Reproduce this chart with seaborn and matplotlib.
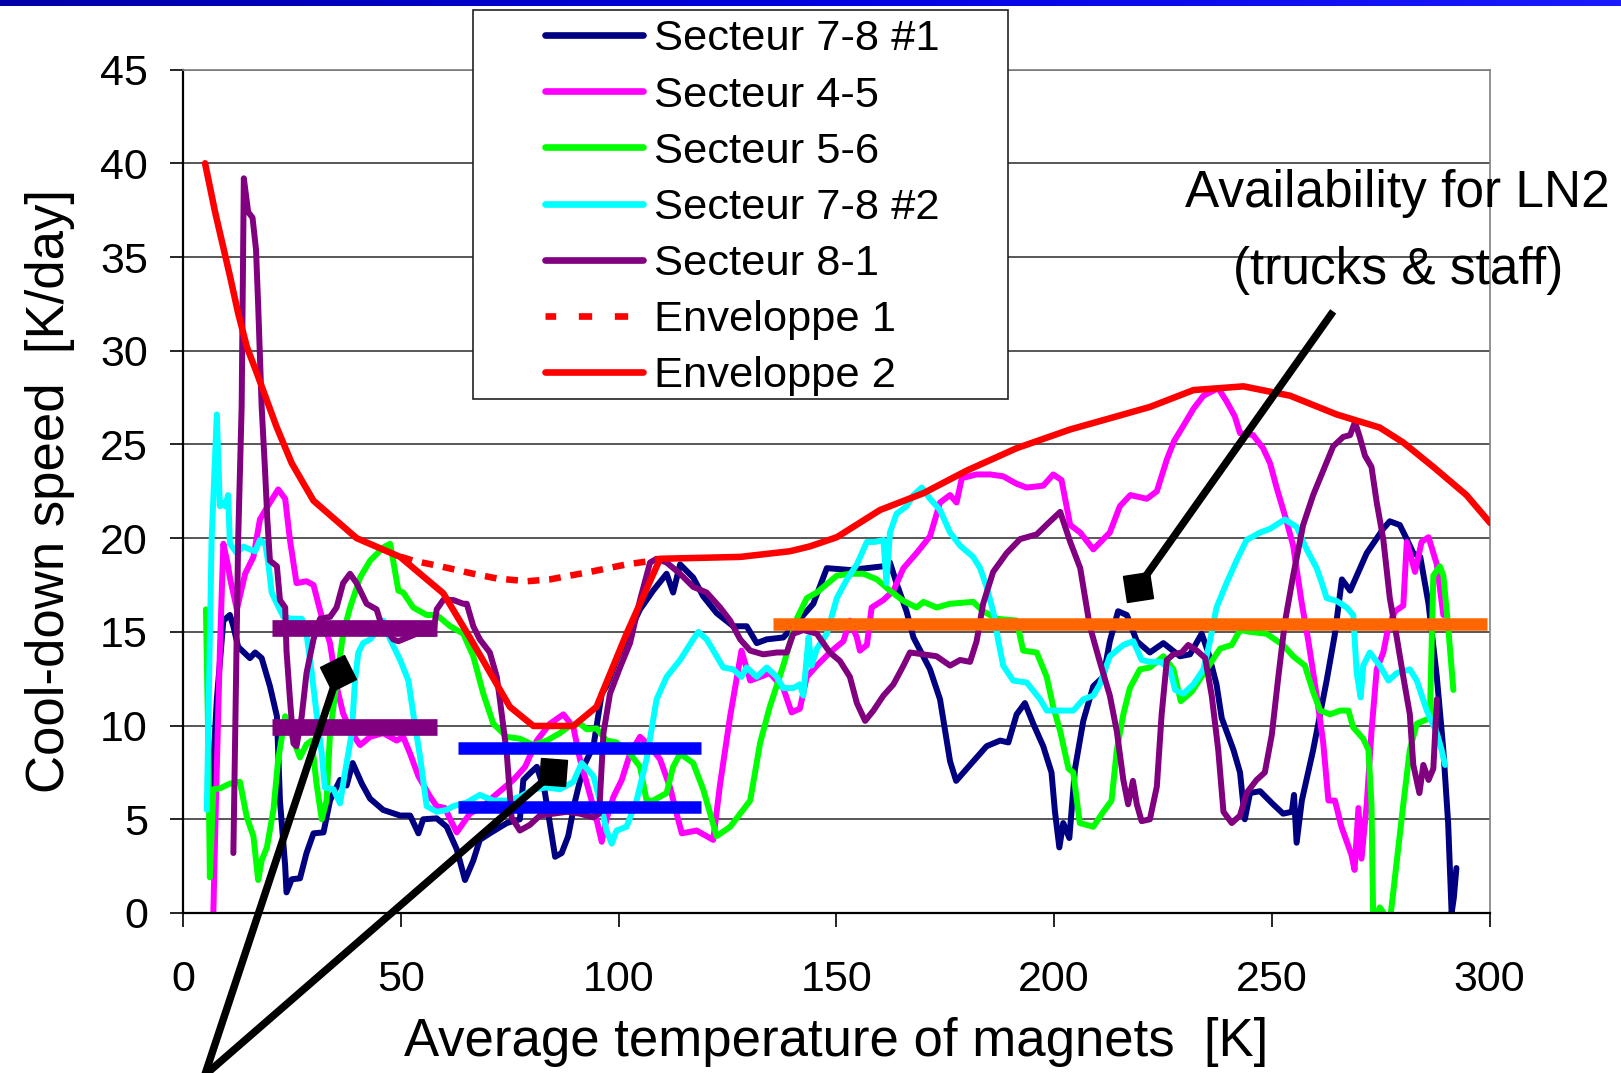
import numpy as np
import pandas as pd
import matplotlib
matplotlib.use("Agg")
import matplotlib.pyplot as plt
import seaborn as sns
from matplotlib.markers import MarkerStyle
from matplotlib.transforms import Affine2D
from matplotlib.patches import Rectangle
from matplotlib.colors import LinearSegmentedColormap

# ---------------- data ----------------
s78a_x = [6.0, 6.9, 7.7, 9.2, 10.7, 11.5, 12.6, 15.3, 16.5, 18.0, 19.9, 21.5, 22.2, 23.4, 23.7, 24.9, 26.8, 28.3, 29.9, 32.2,
          33.7, 36.0, 37.5, 38.9, 41.0, 42.9, 45.9, 49.8, 52.1, 54.0, 55.1, 58.2, 60.5, 62.8, 64.7, 66.6, 68.1, 70.4, 74.3, 77.3,
          78.1, 79.6, 81.2, 83.0, 85.4, 86.9, 88.4, 90.0, 91.9, 94.2, 96.1, 97.2, 99.5, 101.8, 104.9, 107.9, 111.0, 112.5, 114.1, 117.1,
          119.4, 122.5, 126.3, 129.4, 131.7, 134.0, 137.8, 140.9, 144.7, 147.8, 153.1, 160.8, 162.3, 163.8, 166.1, 167.7, 171.5, 173.8, 176.1, 177.5,
          180.7, 184.5, 187.6, 189.5, 191.4, 193.3, 195.2, 197.5, 199.4, 200.2, 201.2, 202.1, 203.5, 204.8, 206.7, 209.0, 211.3, 212.8, 214.7, 216.7,
          219.0, 222.0, 225.1, 228.9, 231.2, 233.9, 235.4, 237.3, 238.5, 241.2, 242.7, 243.8, 245.0, 247.3, 250.3, 252.6, 254.6, 255.1, 255.7, 256.9,
          259.5, 262.6, 264.5, 266.1, 268.0, 271.8, 275.6, 277.1, 279.4, 281.0, 282.5, 284.1, 286.0, 287.9, 289.4, 290.5, 291.3, 291.8, 292.4]
s78a_y = [5.5, 8.0, 11.4, 15.6, 15.9, 15.3, 14.2, 13.6, 13.9, 13.6, 12.1, 10.5, 6.0, 2.5, 1.1, 1.8, 1.85, 3.2, 4.25, 4.3,
          6.0, 7.1, 6.8, 8.0, 6.9, 6.1, 5.5, 5.2, 5.2, 4.25, 5.0, 5.05, 4.6, 3.4, 1.76, 2.8, 3.9, 4.25, 4.8, 5.0,
          7.1, 7.45, 7.8, 6.5, 3.0, 3.2, 4.1, 6.0, 7.8, 8.9, 11.7, 12.1, 13.5, 14.7, 16.2, 17.2, 18.1, 17.1, 18.6, 17.9,
          16.9, 16.0, 15.3, 15.3, 14.4, 14.6, 14.7, 15.5, 16.5, 18.4, 18.3, 18.5, 18.7, 17.6, 16.1, 14.7, 13.0, 11.4, 8.1, 7.05,
          7.9, 8.9, 9.2, 9.1, 10.6, 11.2, 10.1, 8.9, 7.5, 5.4, 3.5, 4.8, 4.0, 7.7, 10.25, 12.1, 12.6, 14.5, 16.1, 15.9,
          14.5, 13.9, 14.4, 13.7, 13.8, 14.9, 13.9, 12.2, 10.4, 8.7, 7.5, 5.0, 6.4, 6.5, 5.8, 5.3, 5.4, 6.3, 3.75, 6.0,
          8.7, 12.4, 14.9, 17.8, 17.2, 19.2, 20.5, 20.9, 20.7, 19.95, 19.2, 19.0, 16.5, 12.6, 8.7, 4.8, 0.0, 0.8, 2.4]

s45_x = [6.9, 7.5, 8.4, 9.2, 10.3, 10.7, 12.3, 14.2, 16.1, 17.6, 19.9, 21.8, 23.4, 24.5, 26.0, 28.3, 29.9, 31.8, 33.7, 35.2,
         36.7, 38.7, 40.6, 42.9, 45.9, 49.0, 50.5, 52.1, 54.0, 56.7, 58.2, 60.1, 61.3, 62.8, 64.3, 65.8, 68.9, 71.2, 75.8, 78.5,
         81.2, 84.2, 87.3, 89.6, 91.1, 92.7, 94.6, 96.1, 97.2, 98.8, 100.7, 102.6, 104.9, 107.2, 109.5, 111.8, 113.3, 114.5, 117.9, 120.2,
         121.7, 123.3, 125.6, 128.2, 130.2, 132.5, 134.7, 137.8, 139.7, 141.6, 143.2, 145.5, 148.5, 151.6, 153.1, 154.7, 155.4, 157.0, 158.1, 160.8,
         163.1, 165.4, 168.4, 171.5, 173.8, 176.1, 177.6, 178.8, 182.2, 185.3, 188.3, 191.4, 193.7, 197.5, 199.8, 201.7, 203.7, 206.0, 209.0, 212.8,
         215.1, 217.5, 221.3, 223.6, 225.9, 227.6, 229.7, 232.0, 234.3, 237.7, 239.6, 241.5, 242.7, 245.7, 248.0, 249.6, 251.1, 253.4, 254.9, 256.9,
         258.4, 260.3, 261.8, 263.0, 264.5, 266.0, 268.3, 269.0, 269.9, 270.6, 271.8, 272.9, 274.1, 275.6, 276.8, 278.3, 280.2, 281.0, 282.9, 284.4,
         286.0, 287.9, 289.4]
s45_y = [0.0, 6.0, 14.0, 19.7, 18.5, 17.9, 16.2, 18.1, 19.0, 21.0, 21.9, 22.6, 22.1, 19.9, 17.6, 17.7, 17.5, 15.8, 14.4, 12.1,
         10.65, 9.6, 8.96, 9.4, 9.6, 9.2, 9.4, 8.5, 7.3, 6.2, 5.7, 5.6, 5.0, 4.3, 4.8, 5.3, 5.7, 6.2, 7.1, 7.8,
         9.2, 10.1, 10.6, 9.9, 8.2, 6.9, 5.3, 3.8, 5.0, 6.2, 7.1, 8.5, 9.4, 8.9, 8.2, 6.7, 5.3, 4.25, 4.4, 4.1,
         3.9, 6.9, 10.5, 14.0, 12.4, 12.6, 12.8, 12.0, 10.7, 10.9, 12.6, 13.2, 13.9, 14.5, 15.6, 14.7, 14.0, 14.3, 16.3, 16.7,
         17.2, 18.4, 19.2, 20.1, 21.9, 22.3, 21.9, 23.2, 23.4, 23.4, 23.3, 22.9, 22.7, 22.8, 23.4, 23.1, 20.7, 20.3, 19.4, 20.3,
         21.7, 22.3, 22.1, 22.5, 24.2, 25.2, 26.0, 26.9, 27.6, 28.0, 27.3, 26.5, 25.6, 25.5, 24.8, 24.0, 22.7, 20.9, 19.6, 16.5,
         14.5, 11.6, 9.1, 6.0, 6.0, 4.6, 3.1, 2.3, 5.6, 2.9, 5.8, 9.7, 13.0, 13.9, 15.3, 16.1, 16.4, 19.8, 18.2, 19.8,
         20.05, 18.6, 15.9]

s56_x = [5.2, 5.7, 6.1, 6.9, 8.4, 10.7, 13.0, 14.6, 16.1, 17.2, 18.0, 19.2, 20.7, 21.8, 23.4, 25.3, 26.8, 28.3, 29.5, 30.6,
         31.8, 32.9, 33.7, 35.2, 36.7, 38.3, 40.6, 42.9, 45.9, 47.5, 48.2, 49.4, 50.5, 52.8, 55.9, 58.2, 61.3, 64.3, 66.6, 68.9,
         71.2, 74.3, 77.3, 80.4, 83.5, 86.5, 88.8, 91.1, 92.7, 94.9, 97.2, 99.5, 102.6, 104.9, 106.4, 107.9, 111.0, 112.5, 114.1, 117.1,
         119.4, 121.4, 122.5, 125.6, 127.9, 130.2, 132.5, 134.7, 137.8, 140.9, 143.2, 145.5, 150.1, 153.1, 156.2, 159.3, 162.3, 165.4, 168.4, 170.0,
         173.0, 176.1, 181.4, 183.7, 186.8, 191.4, 192.9, 196.0, 198.3, 199.8, 201.4, 203.3, 204.4, 205.9, 209.0, 211.3, 213.2, 214.4, 215.9, 217.4,
         219.7, 222.0, 225.1, 227.4, 229.1, 231.6, 235.0, 238.1, 240.8, 242.7, 245.0, 248.8, 252.6, 254.9, 257.6, 259.5, 261.1, 263.4, 265.7, 267.6,
         268.7, 271.0, 272.2, 272.9, 273.3, 274.8, 277.1, 280.2, 281.7, 283.3, 286.3, 287.1, 288.6, 289.4, 290.5, 291.7]
s56_y = [16.2, 9.6, 1.9, 6.6, 6.65, 6.9, 7.0, 5.1, 4.1, 1.76, 2.8, 3.5, 5.5, 8.2, 10.5, 9.2, 8.3, 9.0, 9.2, 6.9,
         5.0, 6.0, 9.6, 12.3, 14.9, 16.3, 17.9, 18.8, 19.5, 19.7, 18.8, 17.2, 17.1, 16.3, 15.9, 15.9, 15.3, 14.9, 13.7, 11.7,
         10.1, 9.4, 9.3, 8.96, 9.2, 9.6, 10.0, 10.1, 9.8, 9.85, 9.2, 9.1, 8.5, 7.8, 6.0, 6.0, 6.4, 7.8, 8.5, 8.0,
         6.6, 5.0, 4.1, 4.6, 5.3, 6.0, 9.1, 11.0, 13.2, 15.7, 16.8, 17.1, 18.0, 18.1, 18.1, 17.8, 17.2, 16.65, 16.3, 16.6,
         16.3, 16.5, 16.6, 16.1, 15.7, 15.6, 14.0, 13.9, 12.6, 11.0, 9.7, 7.7, 7.5, 4.8, 4.6, 5.4, 6.0, 8.7, 10.6, 12.0,
         13.0, 13.1, 13.7, 13.0, 11.3, 11.8, 13.0, 14.1, 14.3, 15.1, 15.0, 14.9, 14.3, 13.7, 13.2, 11.8, 10.8, 10.6, 10.8, 10.8,
         9.9, 9.3, 8.7, 5.8, -0.5, 0.3, -0.5, 5.8, 8.7, 10.1, 10.4, 18.0, 18.5, 18.0, 15.3, 11.9]

s78b_x = [5.4, 6.5, 7.7, 8.4, 8.8, 9.6, 10.3, 10.7, 12.3, 13.8, 15.3, 16.5, 17.6, 18.8, 19.5, 20.3, 21.5, 23.0, 24.9, 27.2,
          28.3, 29.5, 30.6, 31.8, 32.5, 34.5, 36.0, 37.1, 38.7, 39.4, 40.2, 41.3, 42.9, 44.0, 45.9, 47.5, 49.8, 51.7, 52.8, 54.4,
          55.9, 58.2, 60.5, 62.0, 65.1, 68.1, 71.2, 74.3, 77.3, 80.4, 83.5, 86.5, 89.6, 91.5, 94.2, 95.7, 97.2, 98.4, 99.5, 101.8,
          104.1, 106.4, 108.7, 111.0, 114.1, 117.1, 118.3, 120.2, 122.5, 124.0, 126.3, 128.2, 129.4, 131.7, 134.0, 136.3, 137.8, 140.1, 141.6, 142.4,
          143.6, 144.3, 145.5, 147.8, 150.1, 152.4, 154.7, 157.0, 158.9, 160.8, 161.5, 162.3, 163.8, 166.1, 167.7, 169.6, 171.5, 173.8, 176.1, 178.4,
          181.4, 183.0, 184.5, 186.0, 187.2, 188.3, 190.6, 193.7, 196.8, 198.3, 202.1, 204.4, 206.7, 209.0, 210.5, 212.8, 215.9, 218.2, 220.1, 222.0,
          224.5, 226.6, 227.8, 229.7, 232.0, 234.3, 235.8, 237.3, 239.6, 241.9, 244.2, 247.3, 249.6, 253.0, 255.7, 258.0, 260.3, 261.5, 262.6, 264.9,
          267.2, 268.7, 269.5, 270.4, 271.0, 272.5, 274.8, 276.8, 278.7, 281.7, 283.3, 285.6, 287.9, 289.0, 289.8]
s78b_y = [5.5, 19.9, 26.6, 21.7, 21.9, 21.7, 22.3, 19.7, 19.2, 19.55, 19.4, 19.3, 19.9, 19.7, 18.7, 17.1, 16.5, 15.8, 15.7, 15.7,
          14.9, 12.8, 10.65, 8.5, 6.7, 6.6, 5.85, 7.45, 9.6, 12.3, 13.9, 14.4, 14.6, 14.9, 15.6, 14.6, 13.5, 12.4, 10.65, 8.3,
          5.7, 5.4, 5.5, 5.7, 5.9, 6.3, 6.0, 6.0, 6.2, 6.6, 6.7, 6.6, 7.0, 8.0, 7.3, 6.0, 4.4, 3.7, 4.4, 4.6,
          6.0, 8.2, 11.4, 12.6, 13.5, 14.6, 15.0, 14.6, 13.7, 13.1, 13.0, 12.6, 13.1, 12.6, 13.1, 12.6, 12.0, 12.0, 12.2, 11.6,
          14.7, 13.2, 14.1, 14.9, 16.8, 17.8, 18.6, 19.8, 19.8, 19.9, 17.6, 20.3, 21.3, 21.7, 22.3, 22.7, 22.1, 21.5, 20.3, 19.6,
          19.0, 18.4, 17.4, 16.1, 14.5, 13.2, 12.4, 12.3, 11.4, 10.8, 10.8, 10.8, 11.4, 11.6, 12.2, 13.7, 14.3, 14.5, 13.5, 13.4,
          13.4, 13.0, 11.9, 11.7, 12.2, 13.0, 14.5, 16.3, 17.6, 18.8, 19.9, 20.3, 20.5, 21.0, 20.6, 19.4, 18.4, 17.6, 16.8, 16.65,
          16.3, 15.9, 12.8, 11.5, 13.2, 13.9, 13.2, 12.4, 12.8, 13.0, 12.4, 10.8, 9.6, 8.7, 7.9]

s81_x = [11.5, 12.6, 13.4, 13.9, 14.9, 15.9, 16.7, 17.2, 18.0, 18.8, 19.3, 19.9, 21.5, 22.2, 23.4, 23.7, 24.5, 25.3, 26.0, 27.2,
         28.3, 29.9, 31.4, 33.7, 35.2, 36.7, 38.3, 39.8, 42.1, 44.4, 45.2, 46.7, 48.2, 49.4, 53.6, 57.4, 58.2, 59.7, 62.0, 64.3,
         65.1, 66.6, 68.1, 70.4, 72.0, 72.7, 74.3, 75.4, 77.3, 79.6, 81.9, 88.1, 91.1, 94.2, 95.5, 96.5, 98.0, 100.3, 102.6, 104.9,
         107.2, 108.7, 111.0, 114.1, 117.1, 120.2, 123.3, 125.6, 127.9, 130.2, 133.2, 136.3, 138.6, 140.1, 142.4, 145.5, 148.5, 150.8, 153.1, 154.7,
         156.6, 158.5, 160.8, 163.1, 165.4, 166.9, 170.0, 173.0, 176.1, 178.4, 180.7, 182.2, 183.7, 186.0, 189.1, 192.2, 196.0, 199.1, 201.4, 203.7,
         206.0, 208.2, 210.5, 212.8, 214.4, 215.9, 217.0, 218.1, 219.0, 220.1, 222.0, 223.6, 224.7, 225.9, 227.4, 229.3, 230.8, 232.8, 234.7, 236.2,
         237.7, 238.9, 240.8, 242.7, 244.2, 246.5, 248.4, 250.0, 251.5, 253.0, 254.9, 257.2, 259.5, 261.8, 264.1, 266.4, 268.0, 269.1, 270.2, 271.4,
         272.9, 274.1, 275.6, 277.1, 278.7, 280.2, 281.7, 282.5, 283.9, 284.8, 286.0, 287.1, 287.9]
s81_y = [3.2, 19.9, 27.0, 39.2, 37.4, 37.1, 35.4, 32.4, 27.0, 23.5, 21.0, 18.8, 18.5, 16.7, 16.3, 14.0, 11.4, 9.05, 8.9, 10.5,
         12.8, 14.6, 15.7, 15.8, 16.3, 17.6, 18.1, 17.6, 16.5, 16.2, 15.6, 15.1, 14.6, 14.5, 14.9, 14.9, 16.2, 16.7, 16.7, 16.5,
         16.5, 15.3, 14.6, 13.9, 12.6, 11.4, 8.5, 5.1, 4.4, 4.7, 5.2, 5.4, 5.3, 5.1, 5.3, 9.6, 11.7, 13.1, 14.4, 16.7,
         18.7, 18.9, 18.7, 18.1, 17.4, 17.1, 16.3, 15.6, 14.6, 14.0, 13.8, 13.9, 13.9, 14.9, 15.1, 14.9, 13.9, 13.45, 12.6, 11.2,
         10.25, 10.8, 11.6, 12.2, 13.2, 13.9, 13.8, 13.7, 13.2, 13.5, 13.4, 14.5, 16.5, 18.2, 19.2, 19.95, 20.2, 20.9, 21.4, 19.8,
         18.4, 15.3, 13.4, 11.6, 9.7, 7.1, 5.8, 7.05, 5.8, 4.9, 5.0, 6.75, 10.6, 13.5, 13.8, 13.9, 14.3, 14.0, 13.6, 11.6,
         8.7, 5.4, 4.8, 5.2, 6.4, 7.1, 7.5, 9.5, 12.6, 15.5, 18.0, 20.7, 22.3, 23.6, 24.9, 25.4, 25.5, 26.2, 25.4, 24.4,
         23.8, 21.9, 19.95, 16.8, 14.7, 12.6, 10.6, 7.9, 6.4, 7.9, 7.1, 7.7, 11.4]

env1_x = [50.0, 52.8, 59.0, 66.6, 72.0, 78.9, 84.2, 93.4, 101.8, 107.9, 109.5]
env1_y = [19.0, 18.8, 18.5, 18.1, 17.85, 17.7, 17.8, 18.2, 18.6, 18.8, 18.9]

env2_x = [5.0, 7.3, 10.7, 12.6, 14.6, 16.9, 21.4, 24.9, 29.9, 39.8, 49.8, 59.7, 65.8, 75.0, 80.4, 89.6, 94.9, 101.8, 109.5, 127.9,
          139.3, 143.9, 150.1, 160.0, 170.0, 179.9, 191.4, 203.7, 214.4, 222.0, 232.0, 243.5, 254.2, 264.9, 274.8, 280.2, 287.1, 294.7, 300.2]
env2_y = [40.0, 37.4, 34.0, 32.0, 30.2, 28.8, 25.95, 24.0, 22.0, 20.0, 19.0, 17.06, 14.7, 11.0, 9.98, 9.98, 11.0, 14.9, 18.9, 19.0,
          19.3, 19.56, 20.05, 21.5, 22.4, 23.6, 24.8, 25.8, 26.5, 27.0, 27.9, 28.1, 27.6, 26.6, 25.9, 25.1, 23.8, 22.3, 20.8]

labels = ["Secteur 7-8 #1", "Secteur 4-5", "Secteur 5-6", "Secteur 7-8 #2", "Secteur 8-1", "Enveloppe 1", "Enveloppe 2"]
x_ticks = [0, 50, 100, 150, 200, 250, 300]
y_ticks = [0, 5, 10, 15, 20, 25, 30, 35, 40, 45]

# annotation bars (range in K, level in K/day)
purple_bar_x = [20.3, 58.2]
purple_bar_levels = [15.2, 9.9]
blue_bar_x = [63.2, 118.8]
blue_bar_levels = [8.8, 5.67]
orange_bar_x = [135.5, 299.5]
orange_bar_level = 15.4

# pointer lines (start -> square head)
pointer_x = [[5.0, 35.6], [5.2, 85.0], [264.1, 219.3]]
pointer_y = [[-8.6, 12.8], [-8.6, 7.5], [32.1, 17.4]]
pointer_rot = [27, -3, 8]

# ---------------- style ----------------
sns.set_theme(style="white")
plt.rcParams["font.family"] = ["Liberation Sans", "DejaVu Sans"]
for k in ["text.color", "axes.labelcolor", "xtick.color", "ytick.color"]:
    plt.rcParams[k] = "black"

W, H = 1621, 1073
fig = plt.figure(figsize=(W / 100, H / 100), dpi=100)
fig.patch.set_facecolor("white")

# top blue band
band = fig.add_axes([0, 1 - 6 / H, 1, 6 / H])
grad = np.linspace(0, 1, 256).reshape(1, -1)
cmap = LinearSegmentedColormap.from_list("band", ["#0000A8", "#0000E0", "#1A1AFF"])
band.imshow(grad, aspect="auto", cmap=cmap)
band.set_axis_off()

x0, x1 = 183.3, 1489.5
y0, y1 = 913.0, 69.6
ax = fig.add_axes([x0 / W, 1 - y0 / H, (x1 - x0) / W, (y0 - y1) / H])

series = [
    (labels[0], s78a_x, s78a_y, "#000080", "-", 4.3),
    (labels[1], s45_x, s45_y, "#FF00FF", "-", 4.3),
    (labels[2], s56_x, s56_y, "#00FF00", "-", 4.3),
    (labels[3], s78b_x, s78b_y, "#00FFFF", "-", 4.3),
    (labels[4], s81_x, s81_y, "#800080", "-", 4.3),
    (labels[5], env1_x, env1_y, "#FF0000", (0, (1.8, 1.5)), 4.7),
    (labels[6], env2_x, env2_y, "#FF0000", "-", 4.7),
]
handles = []
for i, (lab, xs, ys, col, ls, lw) in enumerate(series):
    df = pd.DataFrame({"T": xs, "v": ys})
    sns.lineplot(data=df, x="T", y="v", ax=ax, color=col, linewidth=lw,
                 linestyle=ls, sort=False, estimator=None, label=lab, zorder=2 + i * 0.1)
    ln = ax.get_lines()[-1]
    ln.set_linewidth(lw)
    ln.set_solid_joinstyle("round")
    handles.append(ln)
if ax.get_legend() is not None:
    ax.get_legend().remove()

# annotation bars
for lev in purple_bar_levels:
    ax.plot(purple_bar_x, [lev, lev], color="#800080", lw=12, solid_capstyle="butt", zorder=4)
for lev in blue_bar_levels:
    ax.plot(blue_bar_x, [lev, lev], color="#0000FF", lw=9, solid_capstyle="butt", zorder=4)
ax.plot(orange_bar_x, [orange_bar_level] * 2, color="#FF6600", lw=9, solid_capstyle="butt", zorder=4)

# pointers
for px, py, rot in zip(pointer_x, pointer_y, pointer_rot):
    ax.plot(px, py, color="black", lw=5.4, clip_on=False, zorder=6, solid_capstyle="butt")
    ax.plot([px[1]], [py[1]], linestyle="none",
            marker=MarkerStyle("s", transform=Affine2D().rotate_deg(rot)),
            ms=19, color="black", clip_on=False, zorder=7)

ax.set_xlim(0, 300)
ax.set_ylim(0, 45)
ax.set_xticks(x_ticks)
ax.set_yticks(y_ticks)
ax.set_xticklabels([str(t) for t in x_ticks])
ax.set_yticklabels([str(t) for t in y_ticks])
ax.tick_params(axis="x", bottom=True, direction="out", length=10, width=1.2, pad=24,
               labelsize=31, colors="black")
ax.tick_params(axis="y", left=True, direction="out", length=9.5, width=1.2, pad=16,
               labelsize=31, colors="black")
ax.yaxis.grid(True, color="#2a2a2a", lw=1.1)
ax.xaxis.grid(False)
ax.set_axisbelow(True)
for side in ["left", "bottom"]:
    ax.spines[side].set_color("black")
    ax.spines[side].set_linewidth(1.6)
for side in ["top", "right"]:
    ax.spines[side].set_color("#808080")
    ax.spines[side].set_linewidth(1.2)

ax.set_xlabel("Average temperature of magnets  [K]", fontsize=38, labelpad=12, color="black")
ax.set_ylabel("Cool-down speed  [K/day]", fontsize=38, labelpad=18, color="black")

# legend box + legend
rect = Rectangle((473 / W, 1 - 399 / H), (1008 - 473) / W, (399 - 9.5) / H,
                 transform=fig.transFigure, facecolor="white", edgecolor="#222222",
                 lw=1.2, zorder=4)
fig.add_artist(rect)
leg = fig.legend(handles, labels, loc="upper left", bbox_to_anchor=(545 / W, 1 - 19.5 / H),
                 frameon=False, fontsize=31.3, handlelength=2.25, handletextpad=0.25,
                 labelspacing=0.37, borderpad=0, borderaxespad=0)
leg.set_zorder(5)
for j, lh in enumerate(leg.get_lines()):
    lh.set_linewidth(4.8)
    if j == 5:
        lh.set_linestyle((0.4, (2.0, 3.4)))
    else:
        lh.set_solid_capstyle("round")

fig.text(1397 / W, 1 - 207 / H, "Availability for LN2", ha="center", va="baseline", fontsize=37)
fig.text(1398 / W, 1 - 284 / H, "(trucks & staff)", ha="center", va="baseline", fontsize=37)

fig.savefig("out.png", dpi=100, facecolor="white")
